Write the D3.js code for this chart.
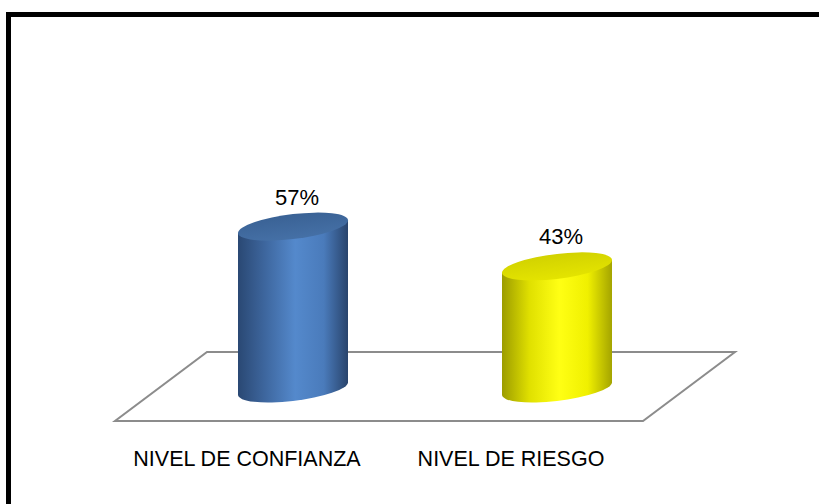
<!DOCTYPE html>
<html>
<head>
<meta charset="utf-8">
<script src="https://cdn.jsdelivr.net/npm/d3@7"></script>
<style>
  body { margin: 0; background: #fff; }
  text { font-family: "Liberation Sans", Arial, sans-serif; fill: #000; }
</style>
</head>
<body>
<div id="chart"></div>
<script>
// data
var categories = ["NIVEL DE CONFIANZA", "NIVEL DE RIESGO"];
var values = [57, 43];
var valueLabels = ["57%", "43%"];
var palettes = [
    { stops: ["#2a4873", "#3e679f", "#5489cc", "#4a7bbb", "#29446c"], top: "#3a6295", topLight: "#4570a6" },
    { stops: ["#9c9c00", "#e0e000", "#ffff14", "#f0f000", "#a4a400"], top: "#d2d200", topLight: "#e4e400" }
];
var stopOffsets = ["0%", "25%", "52%", "78%", "100%"];

var width = 819, height = 504;
var svg = d3.select("#chart").append("svg")
    .attr("width", width).attr("height", height);

// floor geometry (front edge + depth offset)
var floor = { front: [115, 643], frontY: 421, backY: 352, depth: 92 };
var baseY = (floor.frontY + floor.backY) / 2 + 2;

var xScale = d3.scaleBand().domain(categories).range(floor.front).padding(0);
var yScale = d3.scaleLinear().domain([0, 100]).range([baseY, baseY - 284]);

var rx = 55, ry = 12.5, skew = -6.6;

// gradients
var defs = svg.append("defs");
palettes.forEach(function (p, i) {
    var g = defs.append("linearGradient").attr("id", "body" + i)
        .attr("x1", "0%").attr("x2", "100%").attr("y1", "0%").attr("y2", "0%");
    p.stops.forEach(function (c, k) {
        g.append("stop").attr("offset", stopOffsets[k]).attr("stop-color", c);
    });
    var t = defs.append("linearGradient").attr("id", "top" + i)
        .attr("x1", "0%").attr("x2", "0%").attr("y1", "0%").attr("y2", "100%");
    t.append("stop").attr("offset", "0%").attr("stop-color", p.top);
    t.append("stop").attr("offset", "100%").attr("stop-color", p.topLight);
});

// floor
svg.append("path")
    .attr("d", "M" + floor.front[0] + "," + floor.frontY +
        "L" + floor.front[1] + "," + floor.frontY +
        "L" + (floor.front[1] + floor.depth) + "," + floor.backY +
        "L" + (floor.front[0] + floor.depth) + "," + floor.backY + "Z")
    .attr("fill", "#fff")
    .attr("stroke", "#8c8c8c")
    .attr("stroke-width", 2);

// cylinders
var cyl = svg.selectAll("g.cyl").data(values).enter().append("g")
    .attr("class", "cyl")
    .attr("transform", function (d, i) {
        var cx = xScale(categories[i]) + xScale.bandwidth() / 2 + floor.depth / 2;
        return "translate(" + cx + ",0) skewY(" + skew + ")";
    });

cyl.append("path")
    .attr("d", function (d) {
        var yt = yScale(d), yb = yScale(0);
        return "M" + (-rx) + "," + yt + "L" + (-rx) + "," + yb +
            "A" + rx + "," + ry + " 0 0 0 " + rx + "," + yb +
            "L" + rx + "," + yt + "Z";
    })
    .attr("fill", function (d, i) { return "url(#body" + i + ")"; });

cyl.append("ellipse")
    .attr("cx", 0).attr("cy", function (d) { return yScale(d); })
    .attr("rx", rx).attr("ry", ry)
    .attr("fill", function (d, i) { return "url(#top" + i + ")"; });

// value labels
svg.selectAll("text.val").data(values).enter().append("text")
    .attr("class", "val")
    .attr("x", function (d, i) { return xScale(categories[i]) + xScale.bandwidth() / 2 + floor.depth / 2 + 4; })
    .attr("y", function (d) { return yScale(d) - 22; })
    .attr("text-anchor", "middle")
    .attr("font-size", 22)
    .text(function (d, i) { return valueLabels[i]; });

// category labels
svg.selectAll("text.cat").data(categories).enter().append("text")
    .attr("class", "cat")
    .attr("x", function (d) { return xScale(d) + xScale.bandwidth() / 2; })
    .attr("y", 466)
    .attr("text-anchor", "middle")
    .attr("font-size", 21.5)
    .text(function (d) { return d; });

// outer frame
svg.append("rect")
    .attr("x", 8.5).attr("y", 14.5)
    .attr("width", 900).attr("height", 600)
    .attr("fill", "none")
    .attr("stroke", "#000")
    .attr("stroke-width", 5);
</script>
</body>
</html>
